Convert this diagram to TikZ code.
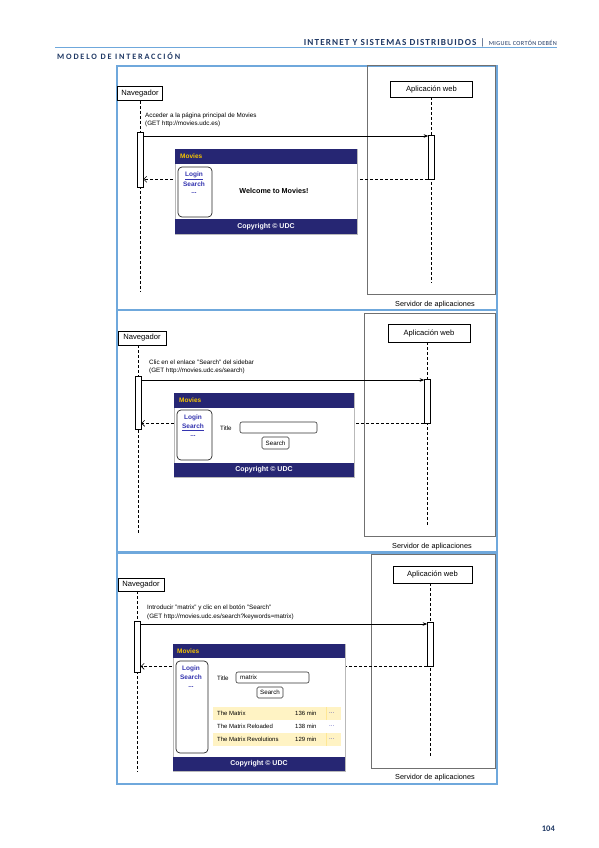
\documentclass[tikz,border=0pt]{standalone}
\usepackage{fontspec}
\setmainfont{Liberation Sans}
\newfontfamily\hdrfont[LetterSpace=12]{Carlito}
\newfontfamily\hdrsmall[LetterSpace=6]{Carlito}
\newfontfamily\sectfont[LetterSpace=22]{Carlito}
\newfontfamily\numfont{Carlito}
\usetikzlibrary{arrows.meta,calc}
\definecolor{navy}{HTML}{262673}
\definecolor{frameblue}{HTML}{6FA8DC}
\definecolor{hdrblue}{HTML}{1F3864}
\definecolor{gold}{HTML}{F5C400}
\definecolor{linkblue}{HTML}{3535B0}
\definecolor{rowyellow}{HTML}{FFF3C4}
\definecolor{srvgray}{HTML}{707070}
\begin{document}
\begin{tikzpicture}[x=1pt,y=-1pt,
  frame/.style={draw=frameblue, line width=1.3pt},
  server/.style={draw=srvgray, line width=1pt, inner sep=0},
  srvlabel/.style={inner sep=0, font=\fontsize{7.3}{8}\selectfont},
  actor/.style={draw=black, line width=0.8pt, fill=white, inner sep=0, font=\fontsize{7.6}{8}\selectfont},
  act/.style={draw=black, line width=0.6pt, fill=white, minimum width=6pt, inner sep=0},
  life/.style={draw=black, line width=0.6pt, dash pattern=on 3pt off 2pt},
  msg/.style={draw=black, line width=0.6pt, -{Stealth[length=4.5pt,width=3.5pt]}},
  ret/.style={draw=black, line width=0.6pt, dash pattern=on 3pt off 2pt, -{Straight Barb[length=3pt,width=6pt]}},
  lbl/.style={anchor=west, inner sep=0, font=\fontsize{6.3}{7}\selectfont},
  page/.style={draw=gray!55, line width=0.6pt, fill=white, inner sep=0},
  bar/.style={fill=navy},
  side/.style={draw=black!85, line width=0.7pt, rounded corners=4pt, fill=white, inner sep=0},
  link/.style={text=linkblue, inner sep=0, font=\fontsize{6.5}{7}\selectfont\bfseries},
  ttl/.style={anchor=west, text=gold, inner sep=0, font=\fontsize{6.5}{7}\selectfont\bfseries},
  copy/.style={text=white, inner sep=0, font=\fontsize{7}{7}\selectfont\bfseries},
  small/.style={inner sep=0, font=\fontsize{6.2}{7}\selectfont},
  field/.style={draw=black!80, line width=0.6pt, rounded corners=2pt, fill=white, inner sep=0},
  btn/.style={draw=black!80, line width=0.6pt, rounded corners=1.5pt, fill=white, inner sep=0, font=\fontsize{6.2}{7}\selectfont},
  cell/.style={anchor=west, inner sep=0, font=\fontsize{6}{7}\selectfont}
]
\fill[white] (0,0) rectangle (599,848);
\useasboundingbox (0,0) rectangle (599,848);

% ---------- page header ----------
\draw[frameblue, line width=1pt] (55,47.5) -- (557,47.5);
\node[anchor=base east, inner sep=0, text=hdrblue] (hdr) at (557,45.5)
  {{\hdrfont\fontsize{9.2}{10}\selectfont\bfseries INTERNET Y SISTEMAS DISTRIBUIDOS}\hspace{4pt}{\numfont\fontsize{9.5}{10}\selectfont|}\hspace{4pt}{\hdrsmall\fontsize{6.2}{7}\selectfont MIGUEL CORTÓN DEBÉN}};
\node[anchor=base west, inner sep=0, text=hdrblue] (sect) at (57,59.5)
  {\sectfont\fontsize{8.2}{9}\selectfont\bfseries MODELO DE INTERACCIÓN};
\node[anchor=base east, inner sep=0, text=hdrblue] (pnum) at (555,831)
  {\numfont\fontsize{8.5}{9}\selectfont\bfseries 104};

% =============== PANEL 1 ===============
\draw[frame] (117,66) rectangle (497,310);
\node[server, minimum width=128, minimum height=228] (srv1) at (431,180) {};
\node[srvlabel] (srvl1) at (435,305) {Servidor de aplicaciones};
\node[actor, minimum width=45, minimum height=14] (nav1) at (140,93.5) {Navegador};
\node[actor, minimum width=82, minimum height=16] (app1) at (431.5,89) {Aplicación web};
\coordinate (e1n) at (0,292);
\coordinate (e1a) at (0,283);
\draw[life] (nav1.south) -- (nav1.south |- e1n);
\draw[life] (app1.south) -- (app1.south |- e1a);
\node[act, minimum height=55] (a1L) at (140,159.5) {};
\node[act, minimum height=44] (a1R) at (431.5,157) {};
\coordinate (m1) at (0,136);
\draw[msg] (a1L.east |- m1) -- (a1R.west |- m1);
\node[lbl] (l1a) at (145,116) {Acceder a la página principal de Movies};
\node[lbl] (l1b) at (145,123.5) {(GET http://movies.udc.es)};
\draw[ret] (a1R.south west) -- (a1L.east |- a1R.south west);
% web page 1
\node[page, minimum width=182, minimum height=85] (w1) at (266,191.5) {};
\fill[bar] (w1.north west) rectangle ($(w1.north east)+(0,15)$);
\fill[bar] ($(w1.south west)+(0,-15)$) rectangle (w1.south east);
\node[ttl] (w1t) at (180,156.5) {Movies};
\node[copy] (w1c) at (266,226.5) {Copyright © UDC};
\node[side, minimum width=34, minimum height=50] (s1) at (195,192) {};
\node[link] (s1a) at (194,176) {\underline{Login}};
\node[link] (s1b) at (194,184) {Search};
\node[link] (s1c) at (194,193) {...};
\node[inner sep=0, font=\fontsize{7.2}{8}\selectfont\bfseries] (w1m) at (274,191) {Welcome to Movies!};

% =============== PANEL 2 ===============
\draw[frame] (117,310) rectangle (497,552);
\node[server, minimum width=131, minimum height=223] (srv2) at (429.5,424.5) {};
\node[srvlabel] (srvl2) at (432,547) {Servidor de aplicaciones};
\node[actor, minimum width=48, minimum height=14] (nav2) at (142,338) {Navegador};
\node[actor, minimum width=82, minimum height=18] (app2) at (429,333) {Aplicación web};
\coordinate (e2n) at (0,534);
\coordinate (e2a) at (0,525);
\coordinate (x2L) at (138,0);
\coordinate (x2R) at (427.5,0);
\draw[life] (x2L |- nav2.south) -- (x2L |- e2n);
\draw[life] (x2R |- app2.south) -- (x2R |- e2a);
\node[act, minimum height=53] (a2L) at (138,402.5) {};
\node[act, minimum height=44] (a2R) at (427.5,401) {};
\coordinate (m2) at (0,380);
\draw[msg] (a2L.east |- m2) -- (a2R.west |- m2);
\node[lbl] (l2a) at (149,362) {Clic en el enlace "Search" del sidebar};
\node[lbl] (l2b) at (149,371) {(GET http://movies.udc.es/search)};
\draw[ret] (a2R.south west) -- (a2L.east |- a2R.south west);
% web page 2
\node[page, minimum width=180, minimum height=84] (w2) at (264,435) {};
\fill[bar] (w2.north west) rectangle ($(w2.north east)+(0,15)$);
\fill[bar] ($(w2.south west)+(0,-14)$) rectangle (w2.south east);
\node[ttl] (w2t) at (179,400.5) {Movies};
\node[copy] (w2c) at (264,470) {Copyright © UDC};
\node[side, minimum width=35, minimum height=50] (s2) at (194.5,435) {};
\node[link] (s2a) at (193,418) {Login};
\node[link] (s2b) at (193,427) {\underline{Search}};
\node[link] (s2c) at (193,436.5) {...};
\node[small, anchor=west] (t2) at (220,428) {Title};
\node[field, minimum width=77, minimum height=11] (f2) at (278.5,427.5) {};
\node[btn, minimum width=27, minimum height=12] (b2) at (275.5,443) {Search};

% =============== PANEL 3 ===============
\draw[frame] (117,553) rectangle (497,784);
\node[server, minimum width=124, minimum height=214] (srv3) at (433,661) {};
\node[srvlabel] (srvl3) at (435,778) {Servidor de aplicaciones};
\node[actor, minimum width=46, minimum height=13] (nav3) at (141,584.5) {Navegador};
\node[actor, minimum width=79, minimum height=17] (app3) at (432.5,574.5) {Aplicación web};
\coordinate (e3n) at (0,772);
\coordinate (e3a) at (0,757);
\coordinate (x3L) at (137.5,0);
\coordinate (x3R) at (430.5,0);
\draw[life] (x3L |- nav3.south) -- (x3L |- e3n);
\draw[life] (x3R |- app3.south) -- (x3R |- e3a);
\node[act, minimum height=51] (a3L) at (137.5,646.5) {};
\node[act, minimum height=44] (a3R) at (430.5,644) {};
\coordinate (m3) at (0,624);
\draw[msg] (a3L.east |- m3) -- (a3R.west |- m3);
\node[lbl] (l3a) at (147,608) {Introducir "matrix" y clic en el botón "Search"};
\node[lbl] (l3b) at (147,617) {(GET http://movies.udc.es/search?keywords=matrix)};
\draw[ret] (a3R.south west) -- (a3L.east |- a3R.south west);
% web page 3
\node[page, minimum width=172, minimum height=127] (w3) at (259,707.5) {};
\fill[bar] (w3.north west) rectangle ($(w3.north east)+(0,14)$);
\fill[bar] ($(w3.south west)+(0,-14)$) rectangle (w3.south east);
\node[ttl] (w3t) at (177,651) {Movies};
\node[copy] (w3c) at (259,764) {Copyright © UDC};
\node[side, minimum width=32, minimum height=92] (s3) at (192,707) {};
\node[link] (s3a) at (191,669) {Login};
\node[link] (s3b) at (191,677) {Search};
\node[link] (s3c) at (191,687) {...};
\node[small, anchor=west] (t3) at (217,678) {Title};
\node[field, minimum width=73, minimum height=11] (f3) at (272.5,677.5) {};
\node[small, anchor=west] (f3t) at (240,677.5) {matrix};
\node[btn, minimum width=26, minimum height=11] (b3) at (270,692.5) {Search};
% results table
\fill[rowyellow] (213,707) rectangle (341,720);
\fill[rowyellow] (213,733) rectangle (341,746);
\draw[yellow!60!orange!40, line width=0.5pt] (326,707) -- (326,720);
\draw[yellow!60!orange!40, line width=0.5pt] (326,733) -- (326,746);
\node[cell] (r1a) at (217,713.5) {The Matrix};
\node[cell] (r1b) at (295,713.5) {136 min};
\node[cell, text=linkblue] (r1c) at (329,713.5) {...};
\node[cell] (r2a) at (217,726.5) {The Matrix Reloaded};
\node[cell] (r2b) at (295,726.5) {138 min};
\node[cell, text=linkblue] (r2c) at (329,726.5) {...};
\node[cell] (r3a) at (217,739.5) {The Matrix Revolutions};
\node[cell] (r3b) at (295,739.5) {129 min};
\node[cell, text=linkblue] (r3c) at (329,739.5) {...};
\end{tikzpicture}
\end{document}
